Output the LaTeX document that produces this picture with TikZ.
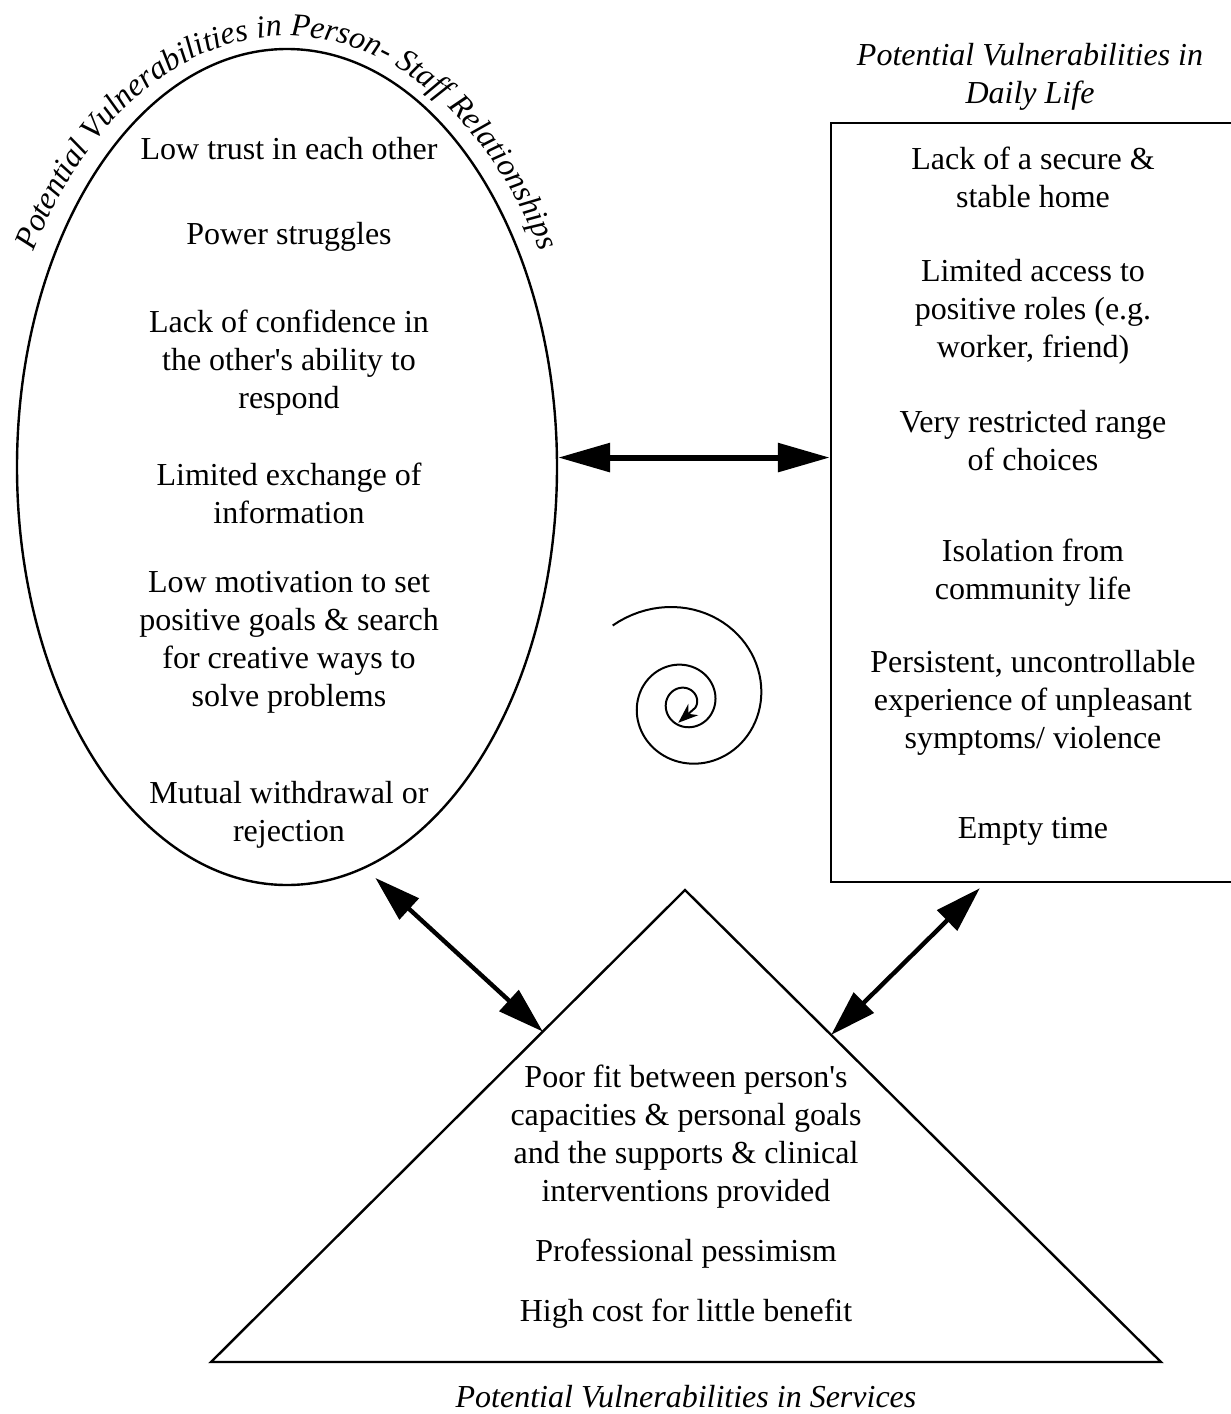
\documentclass[tikz,border=0pt]{standalone}
\usepackage{fontspec}
\setmainfont{Liberation Serif}
\usetikzlibrary{arrows.meta,calc,shapes.geometric,decorations.text}

\tikzset{
  entry/.style={align=center, inner sep=0pt, font=\fontsize{16pt}{19pt}\selectfont},
  heading/.style={entry, font=\fontsize{16pt}{19pt}\selectfont\itshape},
  outline/.style={draw, line width=1.2pt},
  wide arrow/.style={line width=3pt, {Triangle[length=26pt,width=14pt]}-{Triangle[length=26pt,width=14pt]}},
  slant arrow/.style={line width=2.2pt, {Triangle[length=23pt,width=14pt]}-{Triangle[length=23pt,width=14pt]}},
}

\begin{document}
\begin{tikzpicture}[x=0.5pt,y=0.5pt]
\useasboundingbox (0,0) rectangle (1231,-1414);

% the three outlines
\node (relation) [outline, ellipse, minimum width=270pt, minimum height=418pt, inner sep=0pt] at (287,-467) {};
\node (daily) [outline, rectangle, minimum width=202.5pt, minimum height=379.5pt, inner sep=0pt] at (1033.5,-502.5) {};
\coordinate (apex) at (685,-890);
\coordinate (base west) at (211,-1362);
\coordinate (base east) at (1161,-1362);
\draw [line width=1.2pt] (apex) -- (base west) -- (base east) -- cycle;

% titles
\path [decorate, decoration={text along path, text align=center,
  text={|\fontsize{16pt}{19pt}\selectfont\itshape|Potential Vulnerabilities in Person- Staff Relationships}}]
  (287,-467) ++(175:292 and 431) arc [start angle=175, end angle=5, x radius=292, y radius=431];
\node (daily title) [heading] at (1030,-77) {Potential Vulnerabilities in\\Daily Life};
\node (services title) [heading] at (686,-1397) {Potential Vulnerabilities in Services};

% person-staff relationships
\node (trust) [entry] at (289,-149) {Low trust in each other};
\node (power) [entry] at (289,-237) {Power struggles};
\node (confidence) [entry] at (289,-363) {Lack of confidence in\\the other\textquotesingle s ability to\\respond};
\node (exchange) [entry] at (289,-493) {Limited exchange of\\information};
\node (motivation) [entry] at (289,-642) {Low motivation to set\\positive goals \& search\\for creative ways to\\solve problems};
\node (withdrawal) [entry] at (289,-815) {Mutual withdrawal or\\rejection};

% daily life
\node (home) [entry] at (1033,-177) {Lack of a secure \&\\stable home};
\node (roles) [entry] at (1033,-312) {Limited access to\\positive roles (e.g.\\worker, friend)};
\node (choices) [entry] at (1033,-441) {Very restricted range\\of choices};
\node (isolation) [entry] at (1033,-573) {Isolation from\\community life};
\node (symptoms) [entry] at (1033,-703) {Persistent, uncontrollable\\experience of unpleasant\\symptoms/ violence};
\node (time) [entry] at (1033,-831) {Empty time};

% services
\node (fit) [entry] at (686,-1137) {Poor fit between person\textquotesingle s\\capacities \& personal goals\\and the supports \& clinical\\interventions provided};
\node (pessimism) [entry] at (686,-1254) {Professional pessimism};
\node (cost) [entry] at (686,-1314) {High cost for little benefit};

% links
\draw [wide arrow] (relation.2) -- (relation.2 -| daily.west);
\draw [slant arrow, shorten <=7pt] (relation.-79.15) -- ($(apex)!0.3!(base west)$);
\draw [slant arrow] ($(apex)!0.307!(base east)$) -- ($(daily.south west)+(150,-5)$);

% spiral
\draw [line width=1pt, -{Stealth[length=10pt,width=7.5pt]}]
  plot [domain=227:1105, samples=220] ({685+95*exp(-0.002545*(\x-270))*cos(\x)}, {-703-95*exp(-0.002545*(\x-270))*sin(\x)})
  -- ++(-17,-15);
\end{tikzpicture}
\end{document}
